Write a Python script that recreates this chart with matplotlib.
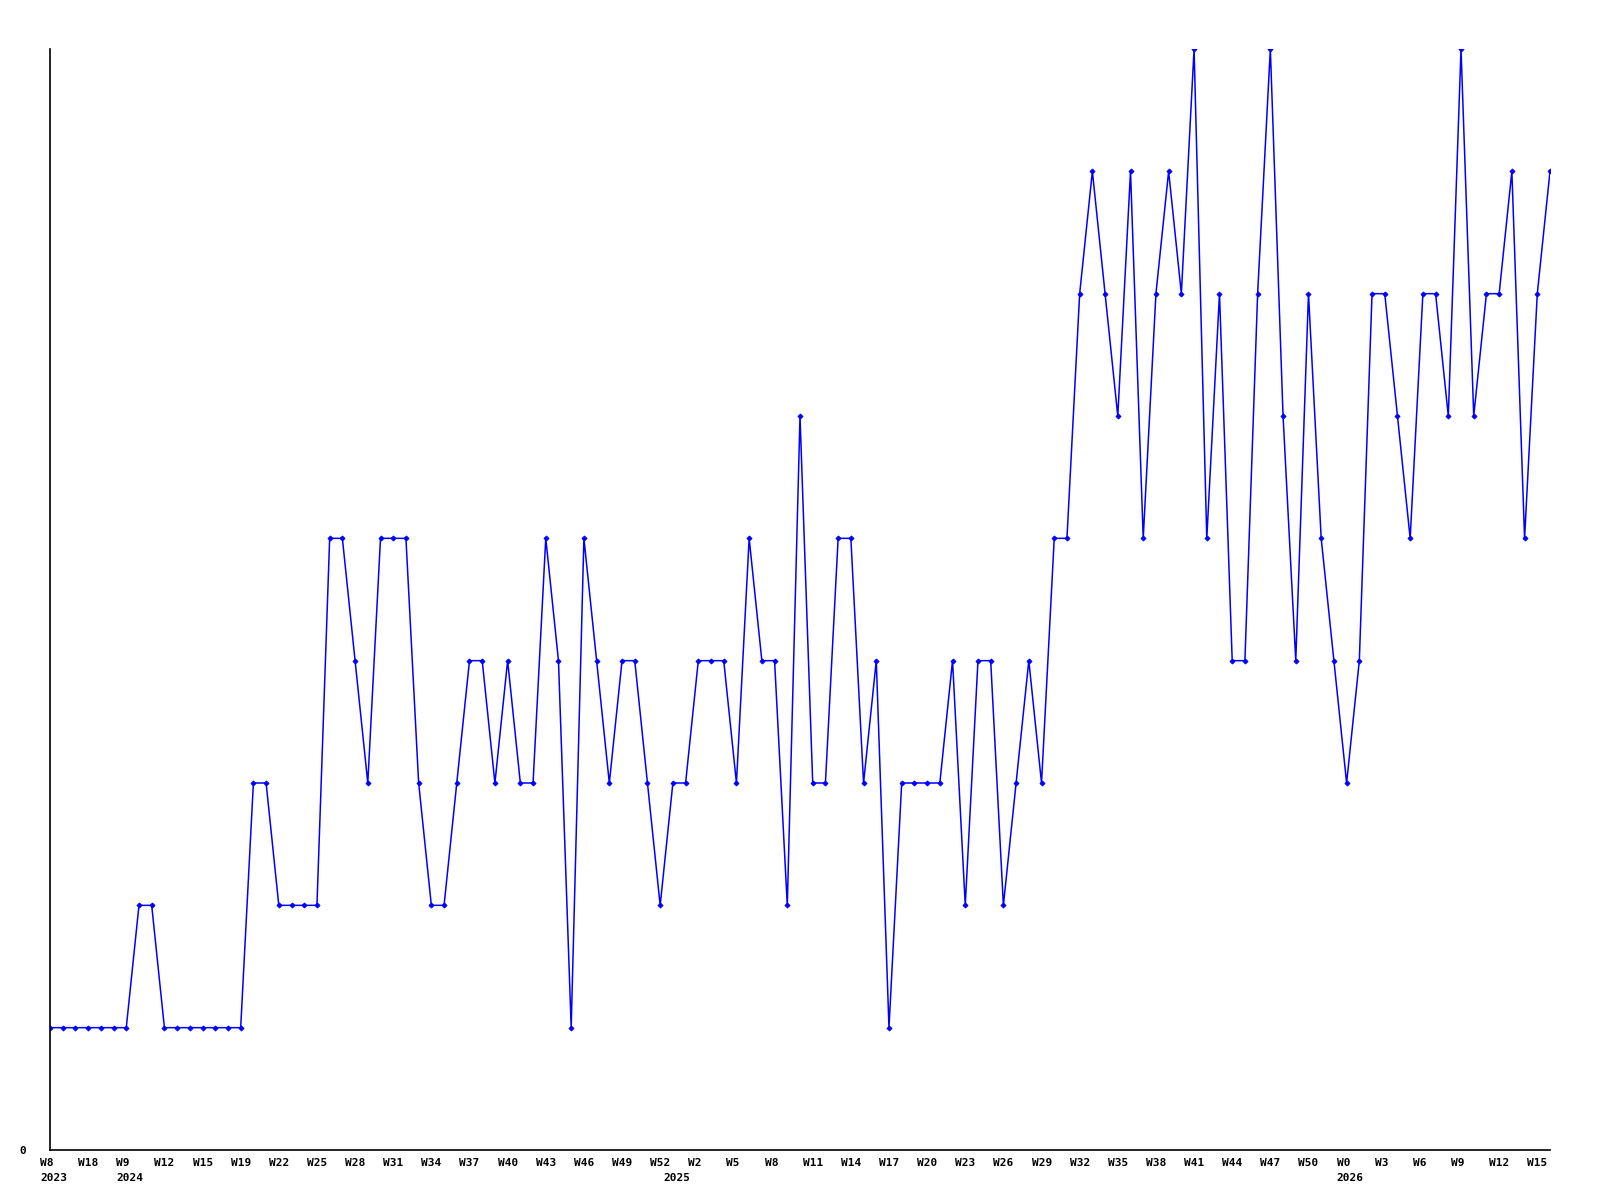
import matplotlib
matplotlib.use("Agg")
from matplotlib import pyplot as plt
import matplotlib.transforms as mtrans

# weekly counts
values = [
    1, 1, 1, 1, 1, 1, 1, 2, 2, 1,
    1, 1, 1, 1, 1, 1, 3, 3, 2, 2,
    2, 2, 5, 5, 4, 3, 5, 5, 5, 3,
    2, 2, 3, 4, 4, 3, 4, 3, 3, 5,
    4, 1, 5, 4, 3, 4, 4, 3, 2, 3,
    3, 4, 4, 4, 3, 5, 4, 4, 2, 6,
    3, 3, 5, 5, 3, 4, 1, 3, 3, 3,
    3, 4, 2, 4, 4, 2, 3, 4, 3, 5,
    5, 7, 8, 7, 6, 8, 5, 7, 8, 7,
    9, 5, 7, 4, 4, 7, 9, 6, 4, 7,
    5, 4, 3, 4, 7, 7, 6, 5, 7, 7,
    6, 9, 6, 7, 7, 8, 5, 7, 8,
]

# one week label every third point
tick_labels = [
    "W8", "W18", "W9", "W12", "W15", "W19", "W22", "W25",
    "W28", "W31", "W34", "W37", "W40", "W43", "W46", "W49", "W52",
    "W2", "W5", "W8", "W11", "W14", "W17", "W20", "W23", "W26",
    "W29", "W32", "W35", "W38", "W41", "W44", "W47", "W50",
    "W0", "W3", "W6", "W9", "W12", "W15",
]
tick_step = 3

# year markers under the week labels (index of the first week shown)
year_labels = ["2023", "2024", "2025", "2026"]
year_index = [0, 6, 49, 102]

x = list(range(len(values)))

fig = plt.figure(figsize=(16, 12), dpi=100)
ax = fig.add_axes([50 / 1600, 50 / 1200, 1500 / 1600, 1101 / 1200])

ax.plot(x, values, color="#0000ff", linewidth=1.1, marker="D",
        markersize=2.6, markerfacecolor="#0000ff", markeredgewidth=0.6)

ax.set_xlim(0, len(values) - 1)
ax.set_ylim(0, max(values))

for side in ("top", "right"):
    ax.spines[side].set_visible(False)
for side in ("left", "bottom"):
    ax.spines[side].set_color("black")
    ax.spines[side].set_linewidth(1.2)

font = dict(family="DejaVu Sans Mono", weight="bold", size=8)

ax.set_xticks(x[::tick_step])
ax.set_xticklabels(tick_labels, ha="left", va="top", **font)
ax.set_yticks([0])
ax.set_yticklabels(["0"], **font)
ax.tick_params(axis="x", length=0, pad=6)
ax.tick_params(axis="y", length=0, pad=17)

# labels in the reference start a little left of their week
shift = mtrans.ScaledTranslation(-10 / 100, 0, fig.dpi_scale_trans)
for lab in ax.get_xticklabels():
    lab.set_transform(lab.get_transform() + shift)

year_trans = (mtrans.blended_transform_factory(ax.transData, ax.transAxes)
              + mtrans.ScaledTranslation(-10 / 100, -23 / 100, fig.dpi_scale_trans))
for idx, yr in zip(year_index, year_labels):
    ax.text(idx, 0, yr, transform=year_trans, ha="left", va="top",
            clip_on=False, **font)

fig.savefig("out.png", dpi=100, facecolor="white")
